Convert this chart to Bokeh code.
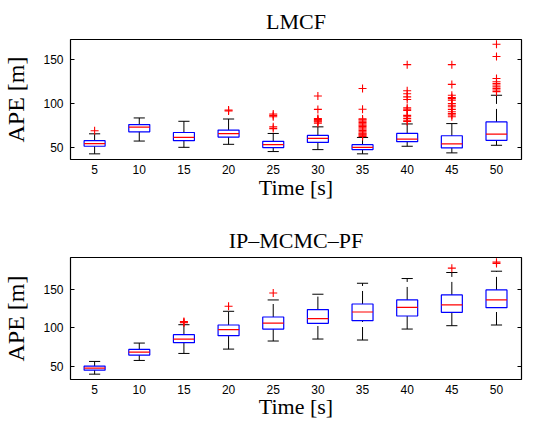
from bokeh.plotting import figure
from bokeh.layouts import column
from bokeh.models import Range1d, FixedTicker, LinearAxis, ColumnDataSource
from bokeh.embed import file_html
from bokeh.resources import INLINE

times = [5, 10, 15, 20, 25, 30, 35, 40, 45, 50]

# LMCF
lm_q1 = [51.5, 67.9, 57.8, 61.9, 50.0, 55.9, 47.7, 56.7, 49.6, 58.2]
lm_med = [54.4, 73.1, 61.5, 65.8, 53.3, 60.4, 50.3, 59.7, 54.1, 65.3]
lm_q3 = [57.8, 76.1, 67.1, 69.9, 57.1, 63.8, 53.3, 66.0, 63.4, 79.1]
lm_lo = [42.9, 57.4, 50.3, 53.7, 45.5, 47.7, 42.9, 51.5, 44.0, 52.6]
lm_hi = [65.6, 83.6, 79.8, 82.4, 66.0, 73.5, 61.5, 76.8, 77.2, 109.3]
lm_out = [
    [69.0],
    [],
    [],
    [91.5, 92.5],
    [71.5, 73.5, 85.0, 86.5, 88.0],
    [77.5, 79.0, 80.0, 81.0, 82.0, 83.0, 93.3, 108.5],
    [62.5, 63.5, 64.5, 65.5, 66.5, 68.0, 69.5, 71.0, 72.5, 74.0, 75.5, 77.0, 78.5, 80.0, 81.5, 82.5, 93.5, 117.0],
    [79.5, 81.0, 83.0, 85.0, 86.5, 92.0, 93.5, 95.0, 104.5, 107.5, 111.0, 114.5, 144.0],
    [85.0, 86.9, 88.5, 90.6, 93.3, 96.2, 98.0, 100.0, 103.7, 105.5, 106.7, 109.3, 121.6, 144.0],
    [113.4, 115.3, 117.1, 119.0, 120.9, 122.7, 124.6, 128.3, 153.3, 167.2],
]

# IP-MCMC-PF
ip_q1 = [44.7, 64.4, 80.7, 89.9, 98.6, 106.1, 109.6, 115.7, 120.6, 126.7]
ip_med = [47.3, 68.4, 85.5, 97.8, 106.5, 112.2, 121.0, 127.1, 130.2, 136.8]
ip_q3 = [50.0, 71.9, 91.2, 103.9, 114.4, 124.1, 131.5, 136.8, 143.4, 150.0]
ip_lo = [39.4, 57.4, 66.6, 72.3, 82.9, 85.5, 84.2, 98.6, 103.0, 103.9]
ip_hi = [56.1, 80.2, 104.3, 121.9, 136.8, 144.3, 158.7, 164.9, 172.8, 174.5]
ip_out = [[], [], [106.8, 107.5, 108.5], [128.5], [146.0], [], [], [], [178.5], [184.6, 186.4]]

y_ticks = [50, 100, 150]
BOX_W = 2.35
CAP_W = 1.25
SERIF = "Liberation Serif"
SANS = "Liberation Sans"


def panel(title, q1, med, q3, lo, hi, outl, yr, height, b_top, b_bottom, title_standoff, xl_standoff):
    p = figure(width=541, height=height, output_backend="svg", toolbar_location=None,
               x_range=Range1d(2.3, 52.8), y_range=Range1d(*yr),
               min_border_left=69, min_border_right=20,
               min_border_top=b_top, min_border_bottom=b_bottom)
    p.background_fill_color = "white"
    p.border_fill_color = "white"
    p.outline_line_color = "black"
    p.outline_line_width = 1.2
    p.xgrid.visible = False
    p.ygrid.visible = False

    src = ColumnDataSource(dict(
        t=times, q1=q1, med=med, q3=q3, lo=lo, hi=hi,
        left=[t - BOX_W / 2 for t in times], right=[t + BOX_W / 2 for t in times],
        cl=[t - CAP_W / 2 for t in times], cr=[t + CAP_W / 2 for t in times],
    ))
    p.segment(x0="t", y0="lo", x1="t", y1="q1", source=src, line_color="black",
              line_width=1, line_dash="13 5")
    p.segment(x0="t", y0="q3", x1="t", y1="hi", source=src, line_color="black",
              line_width=1, line_dash="13 5")
    p.segment(x0="cl", y0="lo", x1="cr", y1="lo", source=src, line_color="black", line_width=1)
    p.segment(x0="cl", y0="hi", x1="cr", y1="hi", source=src, line_color="black", line_width=1)
    p.quad(left="left", right="right", bottom="q1", top="q3", source=src,
           fill_color=None, line_color="#0000ff", line_width=1.2)
    p.segment(x0="left", y0="med", x1="right", y1="med", source=src,
              line_color="#ff0000", line_width=1.2)

    ox, oy = [], []
    for t, vals in zip(times, outl):
        for v in vals:
            ox.append(t)
            oy.append(v)
    p.scatter(ox, oy, marker="cross", size=8, line_color="#ff0000", line_width=1.1)

    p.title.text = title
    p.title.align = "center"
    p.title.text_font = SERIF
    p.title.text_font_style = "normal"
    p.title.text_font_size = "22px"
    p.title.text_color = "black"
    p.title.standoff = title_standoff

    xa = p.xaxis[0]
    xa.ticker = FixedTicker(ticks=times)
    xa.major_tick_in = 0
    xa.major_tick_out = 0
    xa.minor_tick_line_color = None
    xa.axis_line_color = None
    xa.major_label_standoff = 5
    xa.major_label_text_font = SANS
    xa.major_label_text_font_size = "12px"
    xa.major_label_text_color = "black"
    xa.axis_label = "Time [s]"
    xa.axis_label_text_font = SERIF
    xa.axis_label_text_font_style = "normal"
    xa.axis_label_text_font_size = "22px"
    xa.axis_label_text_color = "black"
    xa.axis_label_standoff = xl_standoff

    ya = p.yaxis[0]
    ya.ticker = FixedTicker(ticks=y_ticks)
    ya.major_tick_in = 4
    ya.major_tick_out = 0
    ya.minor_tick_line_color = None
    ya.axis_line_color = None
    ya.major_label_standoff = 7
    ya.major_label_text_font = SANS
    ya.major_label_text_font_size = "12px"
    ya.major_label_text_color = "black"
    ya.axis_label = "APE [m]"
    ya.axis_label_text_font = SERIF
    ya.axis_label_text_font_style = "normal"
    ya.axis_label_text_font_size = "24px"
    ya.axis_label_text_color = "black"
    ya.axis_label_standoff = 11

    ra = LinearAxis(ticker=FixedTicker(ticks=y_ticks))
    ra.major_tick_in = 4
    ra.major_tick_out = 0
    ra.minor_tick_line_color = None
    ra.axis_line_color = None
    ra.major_label_overrides = {50: "", 100: "", 150: ""}
    ra.major_label_text_font_size = "12px"
    p.add_layout(ra, "right")
    return p


p1 = panel("LMCF", lm_q1, lm_med, lm_q3, lm_lo, lm_hi, lm_out, (36.5, 172.5),
           211, 38, 52, 12, -2)
p2 = panel("IP\u2013MCMC\u2013PF", ip_q1, ip_med, ip_q3, ip_lo, ip_hi, ip_out, (32.4, 192.5),
           211, 46, 43, 9, -3)

layout = column(p1, p2, spacing=0)
open("out.html", "w").write(file_html(layout, INLINE))
